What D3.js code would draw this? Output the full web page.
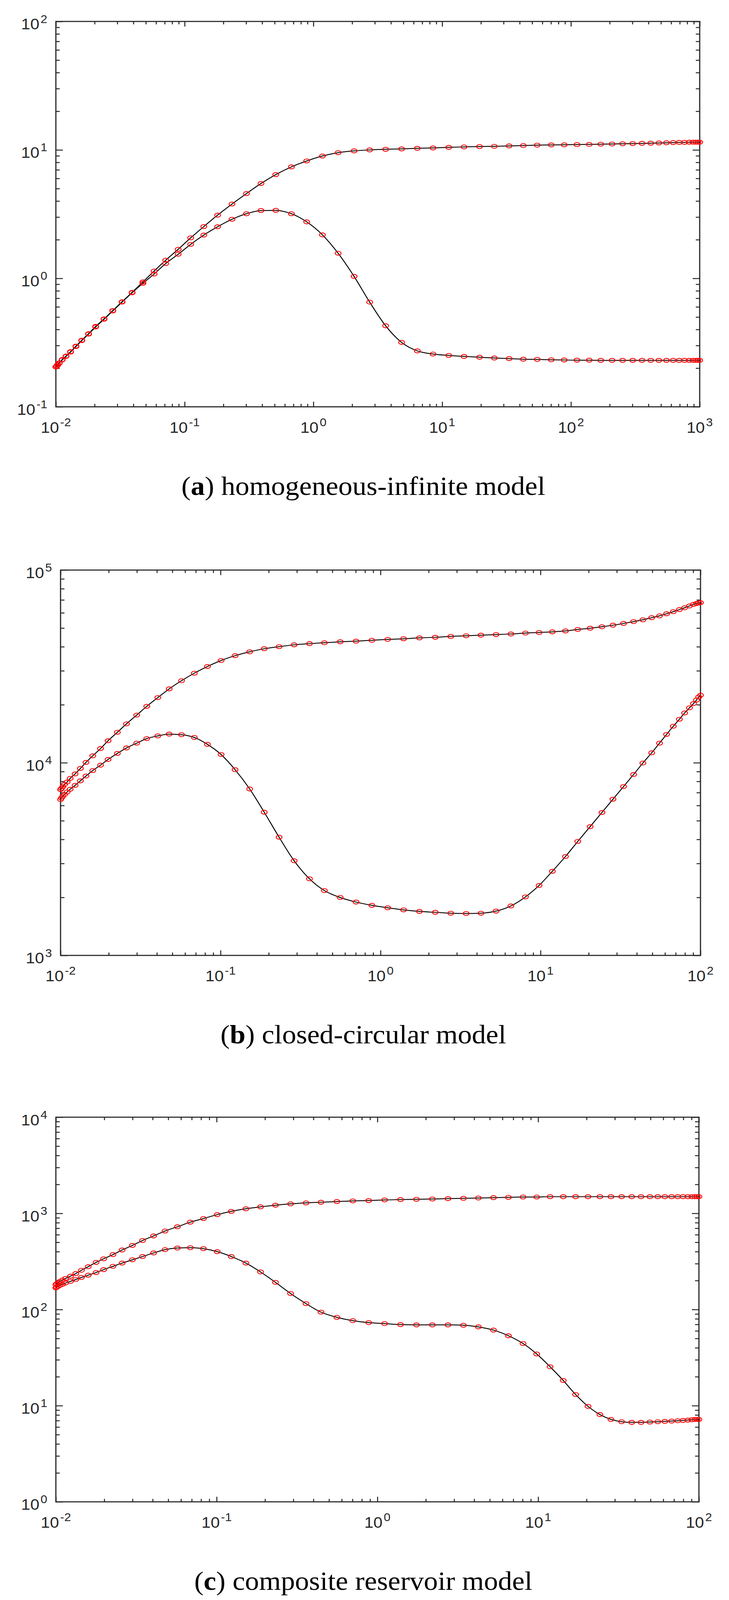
<!DOCTYPE html>
<html>
<head>
<meta charset="utf-8">
<script src="https://cdn.jsdelivr.net/npm/d3@7"></script>
<style>
  html, body { margin: 0; padding: 0; background: #fff; overflow: hidden; }
  svg { display: block; }
</style>
</head>
<body>
<div id="chart"></div>
<script>
// dimensionless time, same sampling for every curve of a panel
const timeA = [0.01, 0.01016, 0.01035, 0.01062, 0.01119, 0.01199, 0.0130, 0.01432, 0.01589, 0.01795,
  0.02037, 0.02366, 0.02767, 0.03266, 0.03908, 0.04742, 0.05794, 0.07129, 0.08913, 0.1114,
  0.1409, 0.1803, 0.2333, 0.3020, 0.3917, 0.5105, 0.6745, 0.8872, 1.175, 1.556,
  2.070, 2.735, 3.639, 4.842, 6.412, 8.492, 11.25, 14.79, 19.50, 25.41,
  33.11, 42.66, 54.70, 70.31, 88.72, 111.4, 138.7, 170.6, 208.9, 251.8,
  302.0, 356.5, 416.9, 481.9, 552.1, 622.3, 693.4, 762.1, 827.9, 885.1,
  933.3, 968.3, 1000];

const timeBC = [0.01, 0.01013, 0.01033, 0.01059, 0.01099, 0.01148, 0.01233, 0.0133, 0.01442, 0.01589,
  0.01778, 0.01982, 0.02265, 0.02582, 0.02992, 0.03459, 0.04055, 0.04775, 0.05702, 0.06855,
  0.08279, 0.1008, 0.1233, 0.1521, 0.1875, 0.2323, 0.2884, 0.3597, 0.4457, 0.5598,
  0.7031, 0.8831, 1.109, 1.393, 1.750, 2.198, 2.748, 3.428, 4.246, 5.272,
  6.531, 8.054, 9.795, 11.86, 14.32, 17.10, 20.42, 24.21, 28.38, 33.04,
  38.19, 43.65, 49.55, 55.46, 61.38, 67.61, 73.79, 79.62, 85.31, 90.36,
  94.41, 97.50, 100];

// (a) homogeneous-infinite
const aUpper = [0.2046, 0.2083, 0.2134, 0.2198, 0.2334, 0.2485, 0.2687, 0.2968, 0.3300, 0.3709,
  0.4228, 0.4837, 0.5613, 0.6581, 0.7776, 0.9382, 1.140, 1.385, 1.684, 2.067,
  2.530, 3.107, 3.789, 4.571, 5.475, 6.423, 7.375, 8.200, 8.960, 9.517,
  9.824, 10.0, 10.11, 10.18, 10.29, 10.36, 10.47, 10.55, 10.62, 10.66,
  10.74, 10.81, 10.89, 10.93, 10.96, 11.00, 11.04, 11.08, 11.12, 11.16,
  11.20, 11.24, 11.28, 11.32, 11.36, 11.40, 11.44, 11.44, 11.48, 11.48,
  11.48, 11.48, 11.48];
const aLower = [0.2046, 0.2075, 0.2120, 0.2181, 0.2316, 0.2467, 0.2668, 0.2946, 0.3277, 0.3683,
  0.4182, 0.4803, 0.5574, 0.6534, 0.7720, 0.9152, 1.081, 1.304, 1.541, 1.839,
  2.173, 2.521, 2.884, 3.185, 3.371, 3.383, 3.185, 2.754, 2.181, 1.568,
  1.036, 0.6534, 0.4273, 0.3173, 0.2725, 0.2575, 0.2512, 0.2467, 0.2433, 0.2399,
  0.2373, 0.2348, 0.2339, 0.2323, 0.2316, 0.2307, 0.2307, 0.2299, 0.2299, 0.2299,
  0.2299, 0.2299, 0.2299, 0.2299, 0.2299, 0.2299, 0.2299, 0.2299, 0.2299, 0.2299,
  0.2299, 0.2299, 0.2299];

// (b) closed-circular
const bUpper = [7260, 7360, 7520, 7720, 7940, 8290, 8750, 9340, 10040, 10860,
  11850, 13010, 14390, 15910, 17670, 19620, 21780, 24170, 26650, 29150,
  31580, 33930, 35940, 37650, 39050, 40040, 40920, 41500, 41960, 42420,
  42740, 43200, 43660, 43980, 44460, 44770, 45260, 45590, 45920, 46240,
  46580, 47100, 47430, 47780, 48300, 49180, 49890, 50800, 51740, 52840,
  54000, 55190, 56600, 57830, 59300, 60810, 62370, 63730, 65130, 66330,
  67040, 67510, 67760];
const bLower = [6440, 6560, 6705, 6850, 7050, 7285, 7630, 8055, 8533, 9106,
  9716, 10400, 11180, 11930, 12640, 13340, 13780, 14080, 13980, 13530,
  12460, 11030, 9205, 7310, 5538, 4107, 3100, 2497, 2170, 1998,
  1892, 1819, 1767, 1723, 1692, 1674, 1656, 1650, 1656, 1698,
  1806, 2012, 2307, 2733, 3261, 3904, 4659, 5519, 6466, 7523,
  8690, 9964, 11260, 12640, 14030, 15470, 16810, 18130, 19270, 20270,
  21160, 21940, 22410];

// (c) composite reservoir
const cUpper = [181.3, 185.6, 190.0, 196.1, 202.3, 210.4, 222.3, 236.6, 256.0, 279.0,
  308.9, 336.7, 372.7, 415.9, 464.2, 522.2, 582.6, 655.2, 725.3, 809.6,
  882.5, 969.2, 1048, 1116, 1169, 1216, 1255, 1285, 1305, 1326,
  1347, 1358, 1379, 1390, 1401, 1411, 1423, 1434, 1445, 1456,
  1468, 1479, 1479, 1491, 1491, 1491, 1491, 1491, 1491, 1491,
  1491, 1491, 1491, 1491, 1491, 1491, 1491, 1491, 1491, 1491,
  1491, 1491, 1491];
const cLower = [167.7, 170.3, 174.4, 178.5, 182.8, 188.6, 196.1, 205.5, 215.4, 227.6,
  242.3, 260.0, 281.2, 304.1, 328.9, 355.6, 387.6, 419.3, 436.1, 439.5,
  429.3, 399.9, 355.6, 304.1, 246.1, 191.6, 146.8, 115.1, 93.9, 82.9,
  76.6, 73.1, 71.4, 69.7, 69.2, 69.2, 69.2, 68.6, 66.0, 61.1,
  53.4, 44.3, 34.5, 25.4, 18.3, 13.05, 9.84, 8.09, 7.20, 6.81,
  6.71, 6.71, 6.76, 6.81, 6.87, 6.92, 6.97, 7.03, 7.08, 7.14,
  7.20, 7.20, 7.20];

// decade tick labels
const xDecadesA = [1e-2, 1e-1, 1e0, 1e1, 1e2, 1e3];
const xDecadesBC = [1e-2, 1e-1, 1e0, 1e1, 1e2];
const yDecadesA = [1e-1, 1e0, 1e1, 1e2];
const yDecadesB = [1e3, 1e4, 1e5];
const yDecadesC = [1e0, 1e1, 1e2, 1e3, 1e4];

const captions = [
  { letter: "a", text: " homogeneous-infinite model" },
  { letter: "b", text: " closed-circular model" },
  { letter: "c", text: " composite reservoir model" }
];

const width = 1866, height = 4401;
const axisColor = "#262626";

const panels = [
  { left: 143, right: 1791, top: 59, bottom: 1119, time: timeA, series: [aUpper, aLower],
    xTicks: xDecadesA, yTicks: yDecadesA, cap: captions[0] },
  { left: 155, right: 1793, top: 1568, bottom: 2628, time: timeBC, series: [bUpper, bLower],
    xTicks: xDecadesBC, yTicks: yDecadesB, cap: captions[1] },
  { left: 143, right: 1789, top: 3073, bottom: 4131, time: timeBC, series: [cUpper, cLower],
    xTicks: xDecadesBC, yTicks: yDecadesC, cap: captions[2] }
];

// laid out in 1866x4401 units, fitted to the viewport the browser gives us
const vw = window.innerWidth || width;
const vh = window.innerHeight || height;

const svg = d3.select("#chart")
  .append("svg")
  .attr("width", vw)
  .attr("height", vh)
  .attr("viewBox", [0, 0, width, height])
  .attr("preserveAspectRatio", "none");

function minorTicks(decades) {
  const out = [];
  for (let i = 0; i < decades.length - 1; i++) {
    for (let k = 2; k <= 9; k++) out.push(k * decades[i]);
  }
  return out;
}

function addLabel(g, v, x, y, anchor) {
  const t = g.append("text")
    .attr("x", x)
    .attr("y", y)
    .attr("text-anchor", anchor)
    .attr("fill", axisColor)
    .style("font-family", "'Liberation Sans', Arial, sans-serif")
    .style("font-size", "42px");
  t.append("tspan").text("10");
  t.append("tspan")
    .attr("dx", 3)
    .attr("dy", -18)
    .style("font-size", "31px")
    .text(Math.round(Math.log10(v)));
}

panels.forEach(p => {
  const x = d3.scaleLog()
    .domain(d3.extent(p.xTicks))
    .range([p.left, p.right]);

  const y = d3.scaleLog()
    .domain(d3.extent(p.yTicks))
    .range([p.bottom, p.top]);

  const g = svg.append("g");

  const xMinor = minorTicks(p.xTicks);
  const yMinor = minorTicks(p.yTicks);

  // inward ticks on all four sides
  const sides = [
    { axis: d3.axisBottom, t: `translate(0,${p.bottom})`, s: x, major: p.xTicks, minor: xMinor, len: [-14, -8] },
    { axis: d3.axisTop, t: `translate(0,${p.top})`, s: x, major: p.xTicks, minor: xMinor, len: [-14, -8] },
    { axis: d3.axisLeft, t: `translate(${p.left},0)`, s: y, major: p.yTicks, minor: yMinor, len: [-18, -10] },
    { axis: d3.axisRight, t: `translate(${p.right},0)`, s: y, major: p.yTicks, minor: yMinor, len: [-18, -10] }
  ];

  sides.forEach(sd => {
    [[sd.major, sd.len[0]], [sd.minor, sd.len[1]]].forEach(([vals, len]) => {
      const ax = g.append("g")
        .attr("transform", sd.t)
        .call(sd.axis(sd.s).tickValues(vals).tickSize(len).tickSizeOuter(0).tickFormat(""));
      ax.select(".domain").remove();
      ax.selectAll("line").attr("stroke", axisColor).attr("stroke-width", 2.6);
    });
  });

  g.append("rect")
    .attr("x", p.left)
    .attr("y", p.top)
    .attr("width", p.right - p.left)
    .attr("height", p.bottom - p.top)
    .attr("fill", "none")
    .attr("stroke", axisColor)
    .attr("stroke-width", 3);

  p.xTicks.forEach(v => addLabel(g, v, x(v), p.bottom + 71, "middle"));
  p.yTicks.forEach(v => addLabel(g, v, p.left - 22, y(v) + 22, "end"));

  const line = d3.line()
    .x((d, i) => x(p.time[i]))
    .y(d => y(d))
    .curve(d3.curveMonotoneX);

  p.series.forEach(s => {
    g.append("path")
      .datum(s)
      .attr("fill", "none")
      .attr("stroke", "#000")
      .attr("stroke-width", 2.4)
      .attr("d", line);
  });

  p.series.forEach(s => {
    g.append("g")
      .selectAll("ellipse")
      .data(s)
      .join("ellipse")
      .attr("cx", (d, i) => x(p.time[i]))
      .attr("cy", d => y(d))
      .attr("rx", 7.5)
      .attr("ry", 5.5)
      .attr("fill", "none")
      .attr("stroke", "#ff0000")
      .attr("stroke-width", 2.3);
  });

  const cap = g.append("text")
    .attr("x", 930)
    .attr("y", p.bottom + 242)
    .attr("text-anchor", "middle")
    .attr("fill", "#000")
    .style("font-family", "'Liberation Serif', 'Times New Roman', serif")
    .style("font-size", "72px");
  cap.append("tspan").text("(");
  cap.append("tspan").style("font-weight", "bold").text(p.cap.letter);
  cap.append("tspan").text(")" + p.cap.text);
});
</script>
</body>
</html>
